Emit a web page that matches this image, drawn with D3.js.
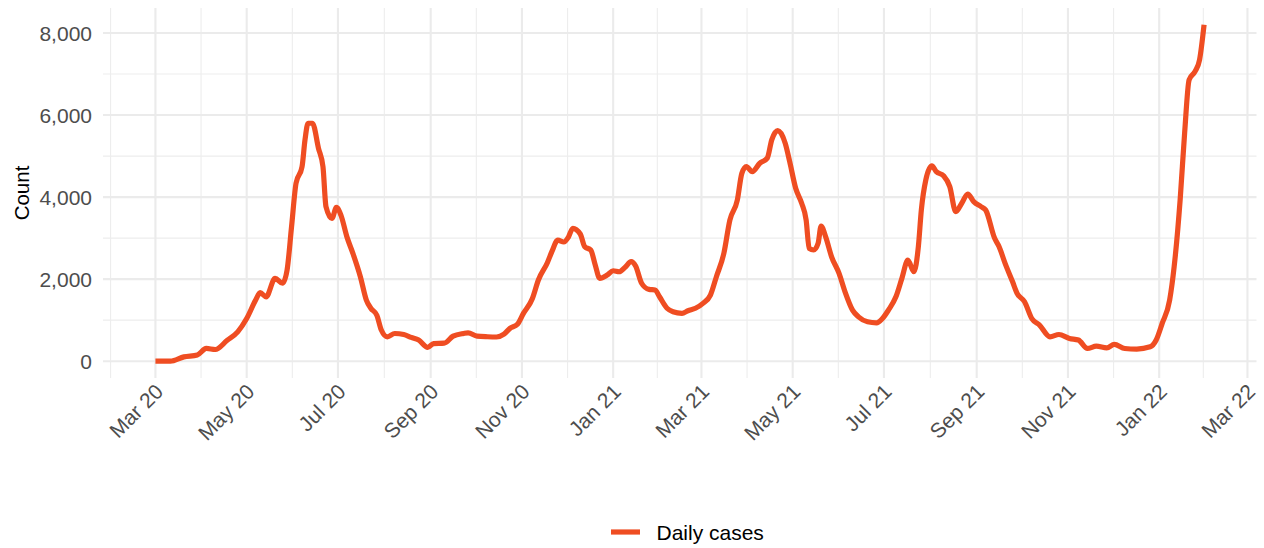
<!DOCTYPE html>
<html>
<head>
<meta charset="utf-8">
<script src="https://cdn.jsdelivr.net/npm/d3@7"></script>
<style>
  body { margin: 0; background: #fff; }
  text { font-family: "Liberation Sans", Arial, sans-serif; }
</style>
</head>
<body>
<script>
// dates of the readings (daily cases, smoothed)
var dates = [
  "2020-03-01","2020-03-11","2020-03-20","2020-03-29","2020-04-04","2020-04-10","2020-04-18","2020-04-25",
  "2020-05-01","2020-05-07","2020-05-10","2020-05-14","2020-05-20","2020-05-25","2020-05-28","2020-05-31",
  "2020-06-03","2020-06-07","2020-06-09","2020-06-11","2020-06-14","2020-06-18","2020-06-21","2020-06-23",
  "2020-06-27","2020-06-30","2020-07-03","2020-07-07","2020-07-11","2020-07-16","2020-07-20","2020-07-23",
  "2020-07-27","2020-07-30","2020-08-03","2020-08-08","2020-08-14","2020-08-19","2020-08-24","2020-08-30",
  "2020-09-03","2020-09-10","2020-09-16","2020-09-23","2020-09-26","2020-10-02","2020-10-09","2020-10-15",
  "2020-10-20","2020-10-24","2020-10-29","2020-11-02","2020-11-08","2020-11-12","2020-11-18","2020-11-21",
  "2020-11-25","2020-11-29","2020-12-02","2020-12-05","2020-12-10","2020-12-13","2020-12-17","2020-12-20",
  "2020-12-23","2020-12-28","2021-01-01","2021-01-05","2021-01-09","2021-01-13","2021-01-16","2021-01-20",
  "2021-01-25","2021-01-29","2021-02-01","2021-02-06","2021-02-10","2021-02-16","2021-02-20","2021-02-25",
  "2021-03-02","2021-03-07","2021-03-11","2021-03-16","2021-03-20","2021-03-25","2021-03-28","2021-03-31",
  "2021-04-04","2021-04-09","2021-04-14","2021-04-17","2021-04-21","2021-04-26","2021-04-29","2021-05-03",
  "2021-05-07","2021-05-10","2021-05-12","2021-05-15","2021-05-18","2021-05-20","2021-05-23","2021-05-27",
  "2021-06-01","2021-06-05","2021-06-10","2021-06-14","2021-06-20","2021-06-26","2021-06-30","2021-07-04",
  "2021-07-09","2021-07-13","2021-07-17","2021-07-21","2021-07-24","2021-07-26","2021-07-29","2021-08-02",
  "2021-08-05","2021-08-10","2021-08-14","2021-08-18","2021-08-22","2021-08-26","2021-08-30","2021-09-04",
  "2021-09-07","2021-09-13","2021-09-16","2021-09-20","2021-09-25","2021-09-28","2021-10-03","2021-10-08",
  "2021-10-13","2021-10-20","2021-10-26","2021-11-02","2021-11-08","2021-11-14","2021-11-20","2021-11-27",
  "2021-12-02","2021-12-09","2021-12-17","2021-12-26","2021-12-30","2022-01-03","2022-01-08","2022-01-11",
  "2022-01-15","2022-01-18","2022-01-21","2022-01-25","2022-01-28","2022-01-31"
];
var cases = [
  0, 0, 105, 150, 310, 285, 510, 715,
  1040, 1490, 1670, 1570, 2020, 1900, 2220, 3280,
  4340, 4740, 5400, 5800, 5800, 5190, 4740, 3770,
  3480, 3750, 3560, 3030, 2630, 2060, 1490, 1290,
  1120, 760, 595, 675, 650, 580, 515, 335,
  430, 440, 610, 675, 690, 610, 595, 590,
  660, 800, 900, 1165, 1530, 1980, 2400, 2670,
  2950, 2905, 3020, 3240, 3100, 2790, 2710, 2345,
  2020, 2100, 2205, 2180, 2290, 2425, 2320, 1900,
  1750, 1735, 1570, 1290, 1205, 1165, 1230, 1290,
  1410, 1610, 2060, 2630, 3440, 3930, 4580, 4745,
  4620, 4825, 4950, 5395, 5620, 5315, 4865, 4215,
  3850, 3440, 2750, 2710, 2875, 3295, 3035, 2545,
  2140, 1690, 1245, 1080, 960, 935, 1040, 1245,
  1570, 2020, 2465, 2180, 2790, 3685, 4420, 4760,
  4620, 4515, 4255, 3645, 3850, 4075, 3890, 3765,
  3685, 2995, 2790, 2385, 1935, 1655, 1450, 1030,
  880, 595, 650, 555, 515, 310, 365, 325,
  410, 310, 295, 350, 515, 920, 1490, 2300,
  3930, 5560, 6860, 7065, 7350, 8200
];
var yTicks = [0, 2000, 4000, 6000, 8000];
var yMinor = [1000, 3000, 5000, 7000];
var seriesName = "Daily cases";
var yTitle = "Count";

drawChart();

function drawChart() {
  var W = 1264, H = 548;
  var pLeft = 103, pRight = 1256.5, pTop = 8, pBottom = 378;
  var lineColor = "#EF4D22";

  var parse = d3.timeParse("%Y-%m-%d");
  var data = dates.map(function(d, i) { return { date: parse(d), value: cases[i] }; });

  // ggplot-style 5% expansion
  var xExt = d3.extent(data, function(d) { return d.date; });
  var xPad = (xExt[1] - xExt[0]) * 0.05;
  var x = d3.scaleTime()
    .domain([new Date(+xExt[0] - xPad), new Date(+xExt[1] + xPad)])
    .range([pLeft, pRight]);

  var yExt = d3.extent(cases);
  var yPad = (yExt[1] - yExt[0]) * 0.05;
  var y = d3.scaleLinear()
    .domain([yExt[0] - yPad, yExt[1] + yPad])
    .range([pBottom, pTop]);

  var svg = d3.select("body").append("svg")
    .attr("width", W).attr("height", H);

  // date breaks every two months, minor breaks halfway between
  var majorX = d3.timeMonth.every(2).range(new Date(2020, 0, 1), new Date(2022, 5, 1));
  var minorX = [];
  for (var i = 0; i < majorX.length - 1; i++) {
    minorX.push(new Date((+majorX[i] + +majorX[i + 1]) / 2));
  }
  var dom = x.domain();
  majorX = majorX.filter(function(d) { return d >= dom[0] && d <= dom[1]; });
  minorX = minorX.filter(function(d) { return d >= dom[0] && d <= dom[1]; });

  var grid = svg.append("g");
  grid.selectAll(".ymin").data(yMinor).enter().append("line")
    .attr("x1", pLeft).attr("x2", pRight)
    .attr("y1", function(d) { return y(d); }).attr("y2", function(d) { return y(d); })
    .attr("stroke", "#ededed").attr("stroke-width", 1.1);
  grid.selectAll(".xmin").data(minorX).enter().append("line")
    .attr("x1", function(d) { return x(d); }).attr("x2", function(d) { return x(d); })
    .attr("y1", pTop).attr("y2", pBottom)
    .attr("stroke", "#ededed").attr("stroke-width", 1.1);
  grid.selectAll(".ymaj").data(yTicks).enter().append("line")
    .attr("x1", pLeft).attr("x2", pRight)
    .attr("y1", function(d) { return y(d); }).attr("y2", function(d) { return y(d); })
    .attr("stroke", "#ebebeb").attr("stroke-width", 2.1);
  grid.selectAll(".xmaj").data(majorX).enter().append("line")
    .attr("x1", function(d) { return x(d); }).attr("x2", function(d) { return x(d); })
    .attr("y1", pTop).attr("y2", pBottom)
    .attr("stroke", "#ebebeb").attr("stroke-width", 2.1);

  // y axis labels
  var fmt = d3.format(",");
  svg.append("g").selectAll("text").data(yTicks).enter().append("text")
    .attr("x", 92).attr("y", function(d) { return y(d); })
    .attr("dy", "0.36em")
    .attr("text-anchor", "end")
    .attr("font-size", 21)
    .attr("fill", "#4d4d4d")
    .text(function(d) { return fmt(d); });

  // x axis labels, rotated 45 degrees, baseline end just right of the tick
  var fmtX = d3.timeFormat("%b %y");
  svg.append("g").selectAll("text").data(majorX).enter().append("text")
    .attr("transform", function(d) { return "translate(" + (x(d) + 9) + "," + 393 + ") rotate(-45)"; })
    .attr("text-anchor", "end")
    .attr("font-size", 21)
    .attr("fill", "#4d4d4d")
    .text(function(d) { return fmtX(d); });

  // axis title
  svg.append("text")
    .attr("transform", "translate(29," + ((pTop + pBottom) / 2) + ") rotate(-90)")
    .attr("text-anchor", "middle")
    .attr("font-size", 20.5)
    .attr("fill", "#000")
    .text(yTitle);

  // the line
  var line = d3.line()
    .x(function(d) { return x(d.date); })
    .y(function(d) { return y(d.value); })
    .curve(d3.curveMonotoneX);

  svg.append("path")
    .datum(data)
    .attr("d", line)
    .attr("fill", "none")
    .attr("stroke", lineColor)
    .attr("stroke-width", 5.2)
    .attr("stroke-linejoin", "round");

  // legend
  var lg = svg.append("g").attr("transform", "translate(611,532)");
  lg.append("line")
    .attr("x1", 0).attr("x2", 29).attr("y1", 0).attr("y2", 0)
    .attr("stroke", lineColor).attr("stroke-width", 5.2);
  lg.append("text")
    .attr("x", 45.5).attr("dy", "0.36em")
    .attr("font-size", 21)
    .attr("fill", "#000")
    .text(seriesName);
}
</script>
</body>
</html>
